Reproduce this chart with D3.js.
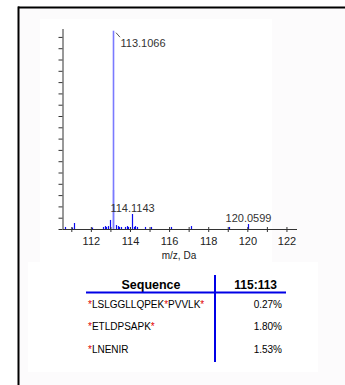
<!DOCTYPE html>
<html>
<head>
<meta charset="utf-8">
<script src="https://cdn.jsdelivr.net/npm/d3@7"></script>
<style>
  html, body { margin: 0; padding: 0; background: #ffffff; }
  svg { display: block; font-family: Arial, "Liberation Sans", sans-serif; }
</style>
</head>
<body>
<svg id="chart" width="345" height="385"></svg>
<script>
// Spectrum peaks (m/z, intensity in counts)
const peakMz = [110.68, 111.05, 111.16, 112.04, 112.62, 112.70, 112.78, 112.86, 112.97,
                113.14, 113.30, 113.38, 113.46, 113.56, 113.76, 113.83, 113.91,
                114.1143, 114.20, 114.28, 114.36, 114.76, 115.07, 116.10, 117.10,
                119.07, 120.0599, 113.1066];
const peakIntensity = [1800, 1300, 5300, 1300, 1800, 2600, 1800, 2600, 8000,
                       34500, 3500, 2600, 1800, 1800, 1800, 2600, 1800,
                       13300, 1800, 2600, 1800, 1800, 1800, 1800, 2600,
                       1800, 4400, 175500];
// Labelled peaks
const labelMz = [113.1066, 114.1143, 120.0599];
const labelText = ["113.1066", "114.1143", "120.0599"];
// Axis ticks
const xTickValues = [111, 112, 113, 114, 115, 116, 117, 118, 119, 120, 121, 122];
const xTickLabels = ["", "112", "", "114", "", "116", "", "118", "", "120", "", "122"];
const yTickValues = d3.range(0, 170001, 10000);
// Quantitation table
const tableHeaders = ["Sequence", "115:113"];
const sequences = ["*LSLGGLLQPEK*PVVLK*", "*ETLDPSAPK*", "*LNENIR"];
const ratios = ["0.27%", "1.80%", "1.53%"];

const svg = d3.select("#chart");

// panel backgrounds and frame
svg.append("rect").attr("x", 19).attr("y", 8).attr("width", 326).attr("height", 377).attr("fill", "#fcfbfc");
svg.append("rect").attr("x", 40).attr("y", 19).attr("width", 232).attr("height", 250).attr("fill", "#ffffff");
svg.append("rect").attr("x", 28).attr("y", 262).attr("width", 290).attr("height", 110).attr("fill", "#ffffff");
svg.append("line").attr("x1", 18).attr("x2", 345).attr("y1", 7.5).attr("y2", 7.5)
  .attr("stroke", "#000").attr("stroke-width", 2);
svg.append("line").attr("x1", 18.5).attr("x2", 18.5).attr("y1", 6.5).attr("y2", 385)
  .attr("stroke", "#000").attr("stroke-width", 2);

// scales
const x = d3.scaleLinear().domain([110.55, 122.54]).range([62.5, 297]);
const y = d3.scaleLinear().domain([0, 177000]).range([229, 29]);

// peaks
const peaks = peakMz.map((m, i) => ({ mz: m, v: peakIntensity[i], hi: m === 113.1066 }));
svg.append("g").selectAll("line").data(peaks).join("line")
  .attr("x1", d => Math.round(x(d.mz)) + 0.5)
  .attr("x2", d => Math.round(x(d.mz)) + 0.5)
  .attr("y1", y(0))
  .attr("y2", d => y(d.v))
  .attr("stroke", d => d.hi ? "#7a7aff" : "#0a0af0")
  .attr("stroke-width", d => d.hi ? 1.6 : 1.2);

// axes
const xAxis = d3.axisBottom(x).tickValues(xTickValues)
  .tickFormat((d, i) => xTickLabels[i]).tickSize(3).tickPadding(5);
const gx = svg.append("g").attr("transform", `translate(0,${y(0)})`).call(xAxis);
gx.select(".domain").attr("stroke", "#333").attr("d", `M62.5,0.5H297`);
gx.selectAll(".tick line").attr("stroke", "#333").attr("y1", -2);
gx.selectAll(".tick text").attr("fill", "#222").attr("font-size", 11)
  .attr("font-family", "Arial, 'Liberation Sans', sans-serif");

const yAxis = d3.axisLeft(y).tickValues(yTickValues).tickFormat("").tickSize(4);
const gy = svg.append("g").attr("transform", "translate(62.5,0)").call(yAxis);
gy.select(".domain").attr("stroke", "#333").attr("d", `M0.5,29V229`);
gy.selectAll(".tick line").attr("stroke", "#333");

svg.append("text").attr("x", 179).attr("y", 259).attr("text-anchor", "middle")
  .attr("font-size", 10).attr("fill", "#222").text("m/z, Da");

// peak labels
labelMz.forEach((m, i) => {
  const p = peaks.find(d => d.mz === m);
  const px = Math.round(x(m)) + 0.5;
  const py = y(p.v);
  if (i === 0) {
    svg.append("line").attr("x1", px + 2.5).attr("y1", py + 2)
      .attr("x2", px + 6.5).attr("y2", py + 6.5)
      .attr("stroke", "#555").attr("stroke-width", 1);
    svg.append("text").attr("x", px + 7).attr("y", py + 16)
      .attr("font-size", 11).attr("fill", "#333").text(labelText[i]);
  } else {
    svg.append("text").attr("x", px).attr("y", py - 2).attr("text-anchor", "middle")
      .attr("font-size", 11).attr("fill", "#333").text(labelText[i]);
  }
});

// table
svg.append("text").attr("x", 151).attr("y", 289).attr("text-anchor", "middle")
  .attr("font-size", 12.5).attr("font-weight", "bold").attr("fill", "#000").text(tableHeaders[0]);
svg.append("text").attr("x", 277).attr("y", 289).attr("text-anchor", "end")
  .attr("font-size", 12).attr("font-weight", "bold").attr("fill", "#000").text(tableHeaders[1]);
svg.append("line").attr("x1", 86).attr("x2", 286).attr("y1", 292.5).attr("y2", 292.5)
  .attr("stroke", "#0000e6").attr("stroke-width", 2);
svg.append("line").attr("x1", 215).attr("x2", 215).attr("y1", 275).attr("y2", 362)
  .attr("stroke", "#0000e6").attr("stroke-width", 2);

const rowY = d3.scalePoint().domain(d3.range(sequences.length)).range([307.5, 352.5]);
sequences.forEach((s, i) => {
  const t = svg.append("text").attr("x", 88).attr("y", rowY(i)).attr("font-size", 10).attr("fill", "#000");
  s.split(/(\*)/).filter(p => p.length).forEach(part => {
    t.append("tspan").attr("fill", part === "*" ? "#e00000" : "#000").text(part);
  });
  svg.append("text").attr("x", 282).attr("y", rowY(i)).attr("text-anchor", "end")
    .attr("font-size", 10).attr("fill", "#000").text(ratios[i]);
});
</script>
</body>
</html>
